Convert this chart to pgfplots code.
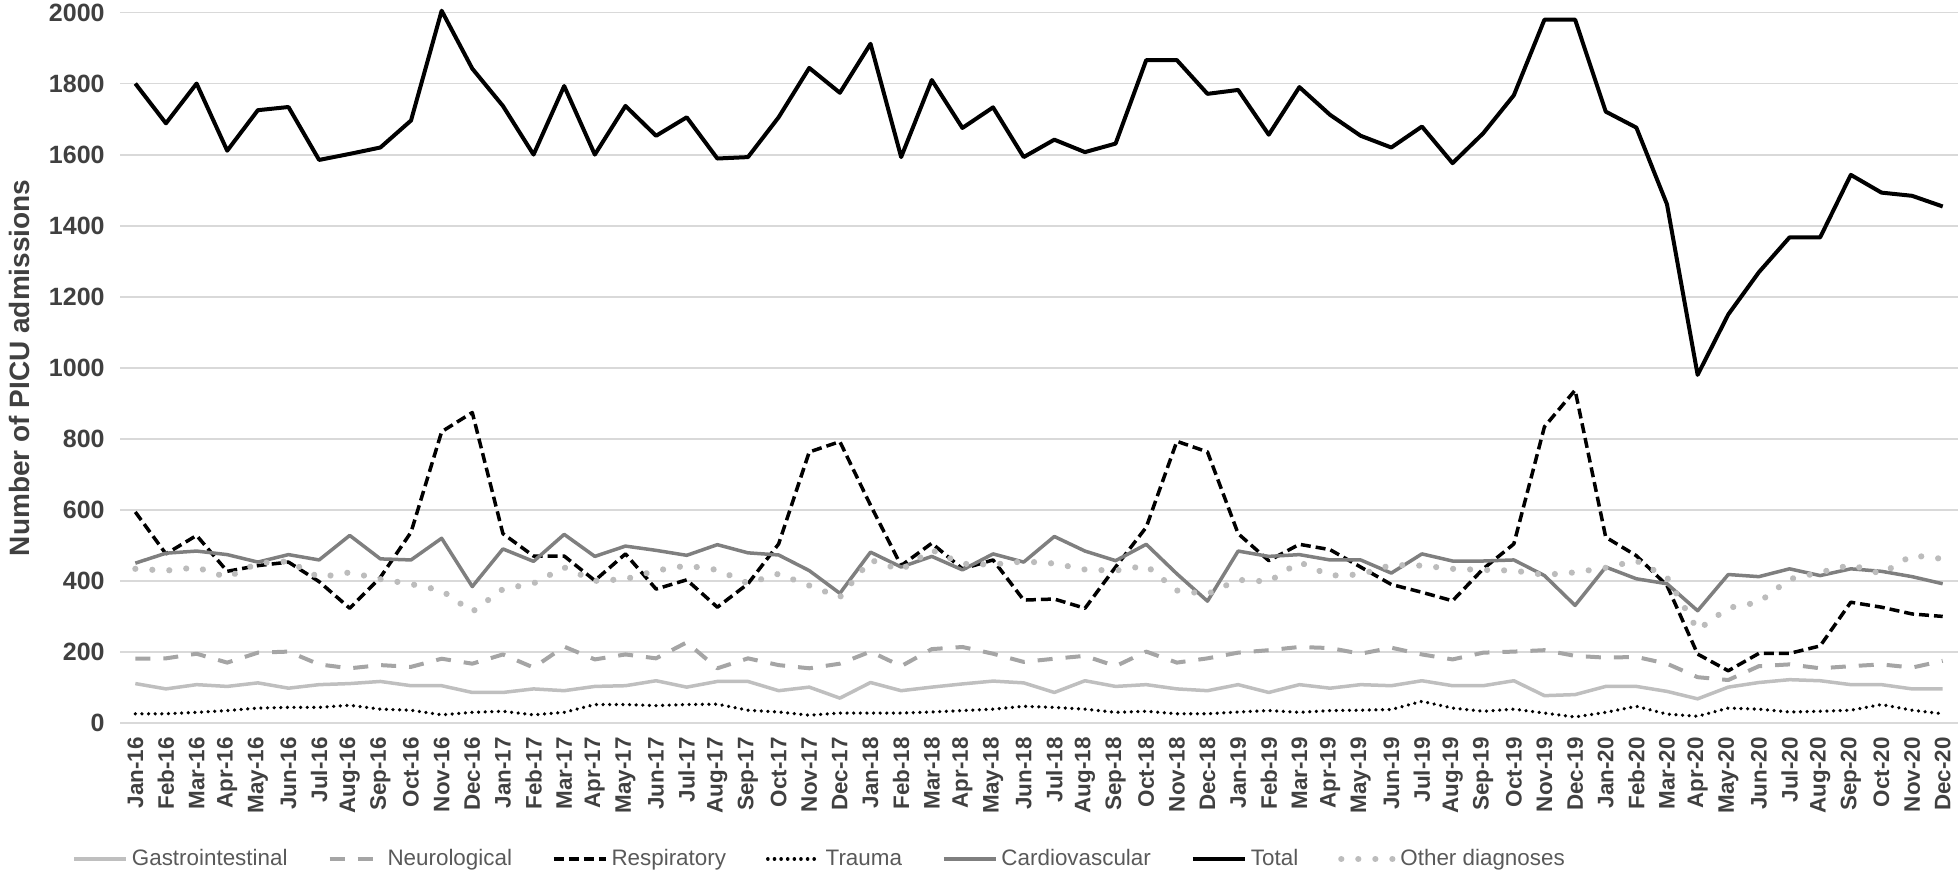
\documentclass[border=0pt]{standalone}
\usepackage{pgfplots}
\pgfplotsset{compat=1.18}
\usepackage{pgfplotstable}
\usepackage{fontspec}
\setmainfont{Liberation Sans}
\definecolor{gridgrey}{HTML}{D9D9D9}
\definecolor{tickgrey}{HTML}{404040}
\definecolor{leggrey}{HTML}{595959}
\definecolor{gicol}{HTML}{BFBFBF}
\definecolor{neurocol}{HTML}{A5A5A5}
\definecolor{cvcol}{HTML}{7F7F7F}
\definecolor{othcol}{HTML}{BCBCBC}

\pgfplotstableread{
idx GI Neuro Resp Trauma CV Total Other
0 111 181 594 26 450 1800 434
1 96 182 476 26 478 1688 429
2 108 195 528 30 484 1800 438
3 103 170 427 35 474 1611 410
4 113 198 443 42 453 1725 450
5 98 201 453 44 474 1734 455
6 108 165 398 44 459 1585 410
7 111 154 323 50 528 1602 424
8 117 163 410 39 462 1620 405
9 105 158 537 36 459 1696 391
10 105 181 820 23 520 2005 373
11 86 167 874 30 384 1842 313
12 86 193 533 33 490 1737 377
13 96 156 470 23 455 1600 393
14 91 215 470 30 531 1793 438
15 103 179 401 52 469 1600 400
16 105 193 476 52 498 1737 405
17 119 182 377 49 486 1653 429
18 101 227 403 52 472 1705 443
19 117 154 326 53 502 1589 431
20 117 182 392 36 479 1593 393
21 91 163 504 31 473 1705 420
22 101 154 763 22 429 1844 387
23 70 167 792 28 365 1774 354
24 114 201 613 28 481 1912 459
25 91 160 443 28 439 1593 431
26 101 208 506 31 469 1810 487
27 110 214 434 35 431 1675 448
28 118 195 459 39 476 1733 446
29 113 172 346 47 453 1593 455
30 86 181 349 44 525 1642 449
31 119 189 323 39 484 1607 432
32 103 160 439 30 457 1631 429
33 108 201 551 33 503 1866 443
34 96 170 793 26 420 1866 373
35 91 182 763 26 343 1771 363
36 108 198 533 31 484 1782 403
37 86 205 457 35 469 1656 398
38 108 214 503 30 474 1790 453
39 98 211 488 35 459 1712 415
40 108 195 439 36 459 1653 418
41 105 212 390 38 422 1620 445
42 119 193 368 61 476 1679 443
43 105 179 344 42 456 1576 434
44 105 198 434 33 456 1660 431
45 119 201 504 39 459 1767 429
46 77 205 834 28 415 1980 417
47 80 189 937 17 331 1980 424
48 103 184 523 30 439 1721 437
49 103 186 471 47 406 1676 457
50 89 167 387 25 392 1460 410
51 68 129 194 19 316 980 262
52 101 121 147 42 418 1150 324
53 114 160 196 39 412 1269 340
54 122 165 196 31 434 1367 405
55 119 154 217 33 415 1367 424
56 108 160 340 36 434 1543 445
57 108 165 326 52 427 1493 420
58 96 156 307 36 412 1484 472
59 96 175 300 26 392 1454 462
}\datatable

\begin{document}
\begin{tikzpicture}
\begin{axis}[
  at={(0,0)}, anchor=south west,
  scale only axis, width=919pt, height=355.25pt,
  xmin=-0.5, xmax=59.5, ymin=0, ymax=2000,
  clip=false,
  xtick={0,...,59},
  xticklabels={Jan-16,Feb-16,Mar-16,Apr-16,May-16,Jun-16,Jul-16,Aug-16,Sep-16,Oct-16,Nov-16,Dec-16,
    Jan-17,Feb-17,Mar-17,Apr-17,May-17,Jun-17,Jul-17,Aug-17,Sep-17,Oct-17,Nov-17,Dec-17,
    Jan-18,Feb-18,Mar-18,Apr-18,May-18,Jun-18,Jul-18,Aug-18,Sep-18,Oct-18,Nov-18,Dec-18,
    Jan-19,Feb-19,Mar-19,Apr-19,May-19,Jun-19,Jul-19,Aug-19,Sep-19,Oct-19,Nov-19,Dec-19,
    Jan-20,Feb-20,Mar-20,Apr-20,May-20,Jun-20,Jul-20,Aug-20,Sep-20,Oct-20,Nov-20,Dec-20},
  ytick={0,200,...,2000},
  axis line style={draw=none},
  major tick length=0pt,
  ymajorgrids, xmajorgrids=false,
  grid style={color=gridgrey, line width=0.9pt},
  /pgf/number format/assume math mode=true,
  /pgf/number format/1000 sep={},
  xticklabel style={rotate=90, anchor=east, inner sep=0pt, text=tickgrey, font=\fontsize{11.2}{13}\selectfont\bfseries},
  yticklabel style={anchor=east, inner sep=0pt, text=tickgrey, font=\fontsize{12.5}{15}\selectfont\bfseries},
  xticklabel shift=7pt,
  yticklabel shift=7.5pt,
  ylabel={Number of PICU admissions},
  ylabel style={at={(axis description cs:-0.05495,0.5)}, anchor=center, rotate=0, text=tickgrey, font=\fontsize{14}{16}\selectfont\bfseries, inner sep=0pt},
  legend columns=7,
  legend style={at={(axis description cs:-0.02612,-0.1914)}, anchor=west, draw=none, fill=none, inner sep=0pt,
    font=\fontsize{11.2}{13}\selectfont, text=leggrey,
    nodes={inner sep=0pt},
    /tikz/every odd column/.append style={column sep=2pt},
    /tikz/every even column/.append style={column sep=20pt}},
  legend image code/.code={\draw[#1] (0pt,0pt) -- (26pt,0pt);},
]
\addplot[color=gicol, line width=1.75pt, line join=round] table[x=idx, y=GI] {\datatable};
\addlegendentry{Gastrointestinal}
\addplot[color=neurocol, line width=2pt, dash pattern=on 7.5pt off 6.5pt, line join=round] table[x=idx, y=Neuro] {\datatable};
\addlegendentry{Neurological}
\addplot[color=black, line width=1.75pt, dash pattern=on 5pt off 2.5pt, line join=round] table[x=idx, y=Resp] {\datatable};
\addlegendentry{Respiratory}
\addplot[color=black, line width=1.8pt, dash pattern=on 0.01pt off 3.3pt, line cap=round] table[x=idx, y=Trauma] {\datatable};
\addlegendentry{Trauma}
\addplot[color=cvcol, line width=1.75pt, line join=round] table[x=idx, y=CV] {\datatable};
\addlegendentry{Cardiovascular}
\addplot[color=black, line width=2pt, line join=round] table[x=idx, y=Total] {\datatable};
\addlegendentry{Total}
\addplot[color=othcol, line width=3.1pt, dash pattern=on 0.01pt off 8.5pt, line cap=round] table[x=idx, y=Other] {\datatable};
\addlegendentry{Other diagnoses}
\end{axis}
\pgfresetboundingbox
\useasboundingbox (-60pt,-75.5pt) rectangle (919pt,361.5pt);
\end{tikzpicture}
\end{document}
